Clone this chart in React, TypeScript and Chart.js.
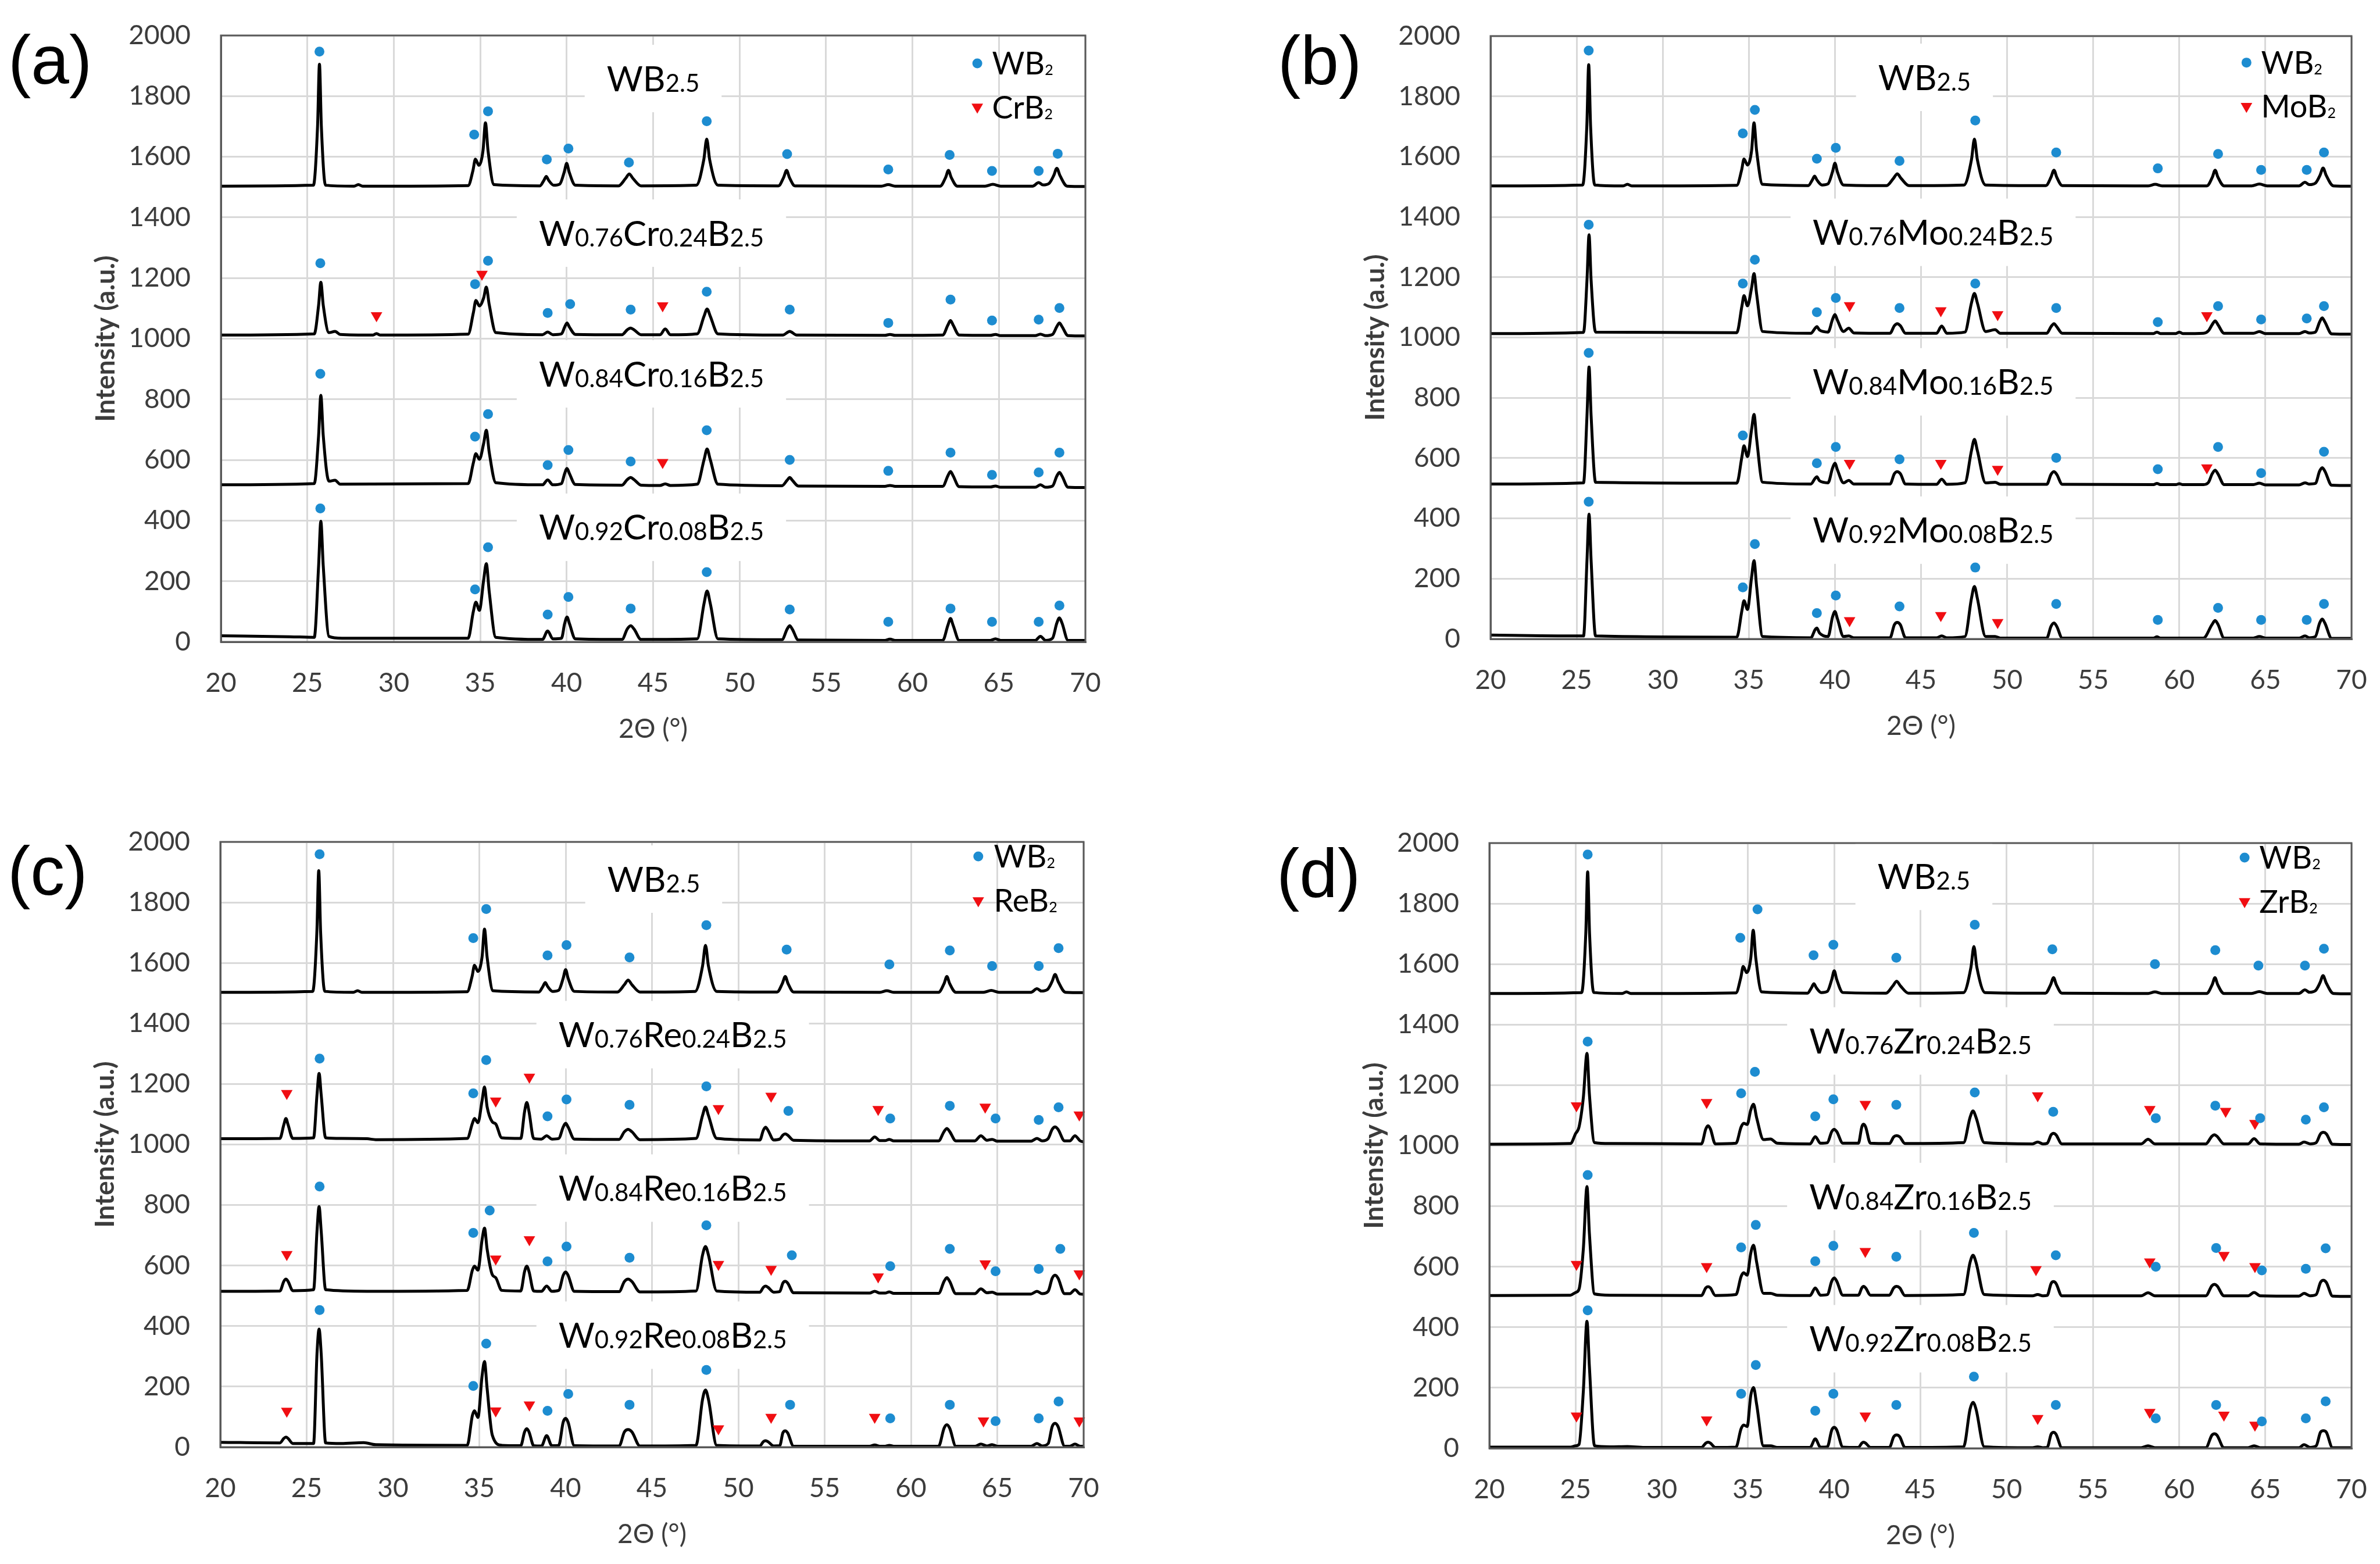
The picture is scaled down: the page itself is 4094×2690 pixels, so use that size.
import React, { useEffect, useRef } from "react";
import { Chart, registerables } from "chart.js";

Chart.register(...registerables);

// ---------------- colours ----------------
const BLUE = "rgb(29,140,208)";
const RED = "rgb(240,14,18)";
const GRID = "#d9d9d9";
const FRAME = "#595959";
const TICK = "#3c3c3c";

// ---------------- XRD patterns: [2θ, intensity, 2θ, intensity, ...] ----------------
const WB25 = [
  20,1503, 25.35,1506, 25.59,1700, 25.7,1905, 25.81,1700, 26.05,1506, 27.7,1503, 27.95,1508, 28.2,1503,
  34.3,1505, 34.58,1555, 34.72,1592, 34.92,1572, 35.16,1620, 35.3,1712, 35.45,1620, 35.8,1508,
  38.45,1504, 38.68,1522, 38.82,1535, 38.96,1522, 39.25,1506, 39.6,1510, 39.86,1550, 40.0,1578, 40.14,1550, 40.5,1506,
  43.0,1504, 43.4,1528, 43.62,1543, 43.84,1528, 44.3,1504, 47.5,1506, 47.93,1590, 48.1,1658, 48.27,1590, 48.75,1506,
  52.25,1504, 52.55,1532, 52.72,1555, 52.88,1532, 53.2,1504, 58.2,1503, 58.6,1508, 59.0,1503,
  61.6,1503, 61.92,1532, 62.08,1555, 62.24,1532, 62.6,1503, 64.2,1503, 64.65,1509, 65.1,1503,
  66.95,1503, 67.3,1515, 67.55,1507, 67.9,1512, 68.17,1538, 68.35,1562, 68.53,1538, 68.95,1503, 70,1502,
];

const CR24 = [
  20,1012, 25.4,1016, 25.65,1110, 25.78,1186, 25.92,1110, 26.25,1020, 26.6,1024, 26.9,1014,
  28.8,1012, 29.0,1017, 29.2,1012,
  34.3,1015, 34.6,1085, 34.75,1126, 34.95,1108, 35.2,1135, 35.35,1170, 35.52,1112, 35.9,1020,
  38.6,1013, 38.9,1022, 39.2,1013, 39.7,1016, 39.88,1038, 40.02,1052, 40.16,1038, 40.5,1014,
  43.2,1013, 43.5,1029, 43.7,1035, 43.9,1029, 44.3,1013, 45.4,1013, 45.7,1032, 46.0,1013,
  47.55,1016, 47.95,1075, 48.12,1098, 48.3,1075, 48.75,1016, 52.5,1012, 52.9,1024, 53.3,1012,
  58.4,1011, 58.7,1014, 59.0,1011, 61.75,1012, 62.05,1045, 62.2,1060, 62.35,1045, 62.7,1012,
  64.5,1011, 64.8,1014, 65.1,1010, 67.1,1010, 67.4,1015, 67.7,1010, 68.1,1014, 68.35,1040, 68.5,1052, 68.65,1040, 69.0,1010, 70,1009,
];

const CR16 = [
  20,518, 25.4,522, 25.65,680, 25.78,813, 25.92,680, 26.25,530, 26.6,533, 26.9,520,
  34.3,522, 34.6,590, 34.75,621, 34.95,602, 35.2,655, 35.35,698, 35.52,625, 35.9,525,
  38.6,518, 38.9,534, 39.2,518, 39.7,522, 39.88,555, 40.02,572, 40.16,555, 40.5,519,
  43.2,517, 43.5,535, 43.7,542, 43.9,535, 44.3,517, 45.4,516, 45.7,521, 46.0,516,
  47.55,520, 47.95,602, 48.12,636, 48.3,602, 48.75,520, 52.45,515, 52.75,533, 52.9,542, 53.05,533, 53.4,514,
  58.4,513, 58.7,516, 59.0,513, 61.75,513, 62.05,548, 62.2,562, 62.35,548, 62.7,512,
  64.5,511, 64.8,514, 65.1,510, 67.1,510, 67.4,518, 67.7,510, 68.1,514, 68.35,547, 68.5,559, 68.65,547, 69.0,510, 70,509,
];

const CR08 = [
  20,20, 24,17, 25.4,15, 25.65,250, 25.78,398, 25.92,250, 26.25,18, 27,12,
  34.3,12, 34.6,100, 34.75,131, 34.95,104, 35.2,205, 35.35,258, 35.52,165, 35.9,15,
  38.6,8, 38.9,36, 39.2,10, 39.7,12, 39.88,60, 40.02,82, 40.16,60, 40.5,10,
  43.2,8, 43.5,42, 43.7,53, 43.9,42, 44.3,8, 47.55,10, 47.95,128, 48.12,168, 48.3,128, 48.75,10,
  52.45,7, 52.75,42, 52.9,53, 53.05,42, 53.4,6, 58.4,5, 58.7,9, 59.0,5,
  61.75,5, 62.05,55, 62.2,77, 62.35,55, 62.7,5, 64.5,5, 64.8,10, 65.1,5,
  67.1,5, 67.4,18, 67.7,5, 68.1,12, 68.35,62, 68.5,79, 68.65,62, 69.0,5, 70,5,
];

const MO24 = [
  20,1013, 25.4,1017, 25.6,1190, 25.72,1341, 25.84,1190, 26.1,1018,
  34.3,1016, 34.6,1105, 34.72,1139, 34.92,1105, 35.16,1165, 35.3,1212, 35.45,1145, 35.8,1020,
  38.6,1014, 38.85,1031, 38.95,1036, 39.1,1025, 39.6,1018, 39.86,1060, 40.0,1076, 40.14,1058, 40.5,1020, 40.8,1031, 41.1,1015,
  43.2,1014, 43.45,1039, 43.62,1046, 43.8,1039, 44.1,1014, 45.9,1014, 46.2,1038, 46.5,1014,
  47.55,1018, 47.93,1115, 48.1,1146, 48.27,1115, 48.75,1020, 49.3,1026, 49.6,1014,
  52.3,1014, 52.55,1036, 52.72,1046, 52.88,1036, 53.2,1014, 58.5,1013, 58.7,1018, 58.9,1013, 59.8,1013, 60.0,1018, 60.2,1013,
  61.4,1014, 61.7,1023, 61.9,1042, 62.08,1055, 62.25,1042, 62.6,1014, 64.3,1014, 64.65,1020, 65.0,1013,
  66.95,1013, 67.3,1020, 67.55,1015, 67.9,1018, 68.15,1052, 68.3,1065, 68.45,1052, 68.85,1012, 70,1011,
];

const MO16 = [
  20,514, 25.4,518, 25.6,740, 25.72,902, 25.84,740, 26.1,520,
  34.3,517, 34.6,605, 34.72,641, 34.92,605, 35.16,695, 35.3,745, 35.45,665, 35.8,520,
  38.6,514, 38.85,533, 38.95,538, 39.1,525, 39.6,518, 39.86,567, 40.0,583, 40.14,562, 40.5,518, 40.8,526, 41.1,514,
  43.2,514, 43.45,548, 43.62,555, 43.8,548, 44.1,514, 45.9,513, 46.2,530, 46.5,513,
  47.55,518, 47.93,625, 48.1,662, 48.27,625, 48.75,518, 49.3,520, 49.6,513,
  52.3,513, 52.55,546, 52.72,555, 52.88,546, 53.2,513, 58.5,512, 58.7,516, 58.9,512, 59.8,512, 60.0,515, 60.2,512,
  61.4,512, 61.7,520, 61.9,547, 62.08,560, 62.25,547, 62.6,512, 64.3,512, 64.65,517, 65.0,511,
  66.95,511, 67.3,518, 67.55,514, 67.9,516, 68.15,557, 68.3,568, 68.45,557, 68.85,510, 70,509,
];

const MO08 = [
  20,13, 25.4,10, 25.6,260, 25.72,414, 25.84,260, 26.1,10,
  34.3,6, 34.6,95, 34.72,127, 34.92,98, 35.16,205, 35.3,260, 35.45,175, 35.8,8,
  38.6,4, 38.85,31, 38.95,36, 39.1,20, 39.6,8, 39.86,73, 40.0,91, 40.14,68, 40.5,8, 40.8,10, 41.1,4,
  43.2,4, 43.45,47, 43.62,55, 43.8,47, 44.1,4, 45.9,4, 46.2,10, 46.5,4,
  47.55,8, 47.93,135, 48.1,174, 48.27,135, 48.75,8, 49.3,8, 49.6,3,
  52.3,3, 52.55,42, 52.72,53, 52.88,42, 53.2,3, 58.5,3, 58.7,7, 58.9,3,
  61.4,3, 61.9,48, 62.08,61, 62.25,48, 62.6,3, 64.3,3, 64.65,8, 65.0,3,
  66.95,3, 67.3,10, 67.55,4, 67.9,8, 68.15,53, 68.3,66, 68.45,53, 68.85,2, 70,2,
];

const RE24 = [
  20,1019, 23.45,1020, 23.68,1066, 23.8,1086, 23.92,1066, 24.2,1020,
  25.4,1022, 25.6,1165, 25.72,1235, 25.84,1165, 26.1,1022, 27,1020, 28.5,1019, 29,1016,
  34.3,1020, 34.6,1070, 34.72,1086, 34.92,1072, 35.16,1145, 35.3,1190, 35.45,1125, 35.75,1075, 35.95,1068, 36.3,1022,
  37.4,1020, 37.62,1108, 37.75,1139, 37.88,1108, 38.15,1020,
  38.6,1018, 38.9,1029, 39.2,1018, 39.6,1020, 39.86,1058, 40.0,1070, 40.14,1058, 40.5,1018,
  43.1,1017, 43.4,1042, 43.62,1050, 43.84,1042, 44.3,1016, 47.55,1020, 47.93,1096, 48.1,1124, 48.27,1096, 48.75,1020,
  51.25,1015, 51.45,1047, 51.58,1057, 51.72,1047, 52.05,1015, 52.4,1018, 52.58,1031, 52.72,1035, 52.86,1031, 53.2,1014,
  57.6,1012, 57.9,1025, 58.2,1013, 58.5,1013, 58.75,1017, 59.0,1012,
  61.6,1012, 61.92,1043, 62.08,1053, 62.24,1043, 62.6,1012, 63.7,1012, 64.05,1029, 64.4,1014, 64.7,1017, 65.0,1011,
  66.95,1011, 67.3,1020, 67.6,1012, 67.95,1020, 68.18,1050, 68.35,1058, 68.52,1050, 68.9,1012,
  69.2,1012, 69.5,1029, 69.8,1012, 70,1009,
];

const RE16 = [
  20,515, 23.45,516, 23.68,548, 23.8,555, 23.92,548, 24.2,517,
  25.4,520, 25.6,715, 25.72,795, 25.84,715, 26.1,520, 28.5,515,
  34.3,518, 34.6,585, 34.72,598, 34.92,585, 35.16,685, 35.3,724, 35.45,655, 35.75,570, 35.95,560, 36.3,518,
  37.4,516, 37.62,580, 37.75,598, 37.88,580, 38.15,516,
  38.6,515, 38.9,532, 39.2,515, 39.6,518, 39.86,568, 40.0,579, 40.14,568, 40.5,515,
  43.1,514, 43.4,547, 43.62,555, 43.84,547, 44.3,513, 47.55,516, 47.93,635, 48.1,663, 48.27,635, 48.75,516,
  51.25,512, 51.45,528, 51.58,532, 51.72,528, 52.05,512, 52.4,514, 52.58,542, 52.72,548, 52.86,542, 53.2,510,
  57.6,509, 57.9,515, 58.2,509, 58.5,509, 58.75,513, 59.0,508,
  61.6,508, 61.92,548, 62.08,560, 62.24,548, 62.6,507, 63.7,507, 64.05,523, 64.4,510, 64.7,512, 65.0,506,
  66.95,506, 67.3,515, 67.6,507, 67.95,515, 68.18,558, 68.35,568, 68.52,558, 68.9,507,
  69.2,507, 69.5,520, 69.8,506, 70,505,
];

const RE08 = [
  20,16, 23.45,14, 23.68,29, 23.8,33, 23.92,29, 24.2,12,
  25.4,12, 25.6,310, 25.72,390, 25.84,310, 26.1,14, 27,12, 28.3,15, 29,8,
  34.3,6, 34.6,105, 34.72,120, 34.92,98, 35.16,235, 35.3,283, 35.45,195, 35.75,40, 36.3,6,
  37.4,5, 37.62,50, 37.75,61, 37.88,50, 38.15,5,
  38.6,4, 38.9,38, 39.2,5, 39.6,6, 39.86,83, 40.0,95, 40.14,83, 40.5,5,
  43.1,4, 43.4,50, 43.62,58, 43.84,50, 44.3,4, 47.55,6, 47.93,158, 48.1,189, 48.27,158, 48.75,6,
  51.25,4, 51.45,18, 51.58,21, 51.72,18, 52.05,4, 52.4,5, 52.58,47, 52.72,54, 52.86,47, 53.2,3,
  57.6,3, 57.9,7, 58.2,3, 58.5,3, 58.75,6, 59.0,3,
  61.6,3, 61.92,63, 62.08,74, 62.24,63, 62.6,3, 63.7,3, 64.05,10, 64.4,4, 64.7,8, 65.0,3,
  66.95,3, 67.3,12, 67.6,4, 67.95,12, 68.18,68, 68.35,79, 68.52,68, 68.9,3,
  69.2,3, 69.5,10, 69.8,3, 70,3,
];

const ZR24 = [
  20,1005, 24.7,1007, 25.0,1040, 25.2,1062, 25.45,1160, 25.66,1305, 25.8,1170, 26.1,1010, 27,1007,
  32.3,1006, 32.55,1055, 32.68,1066, 32.82,1055, 33.1,1006,
  34.3,1008, 34.6,1062, 34.75,1074, 34.95,1070, 35.16,1118, 35.32,1137, 35.5,1092, 35.9,1020, 36.3,1022, 36.7,1008,
  38.6,1006, 38.9,1030, 39.2,1008, 39.6,1010, 39.86,1047, 40.0,1054, 40.14,1047, 40.5,1008,
  41.4,1008, 41.6,1062, 41.7,1071, 41.82,1062, 42.1,1008, 43.2,1007, 43.45,1029, 43.62,1033, 43.8,1029, 44.1,1007,
  47.5,1010, 47.88,1094, 48.05,1115, 48.22,1094, 48.7,1010,
  51.5,1006, 51.8,1012, 52.1,1006, 52.35,1008, 52.58,1036, 52.72,1041, 52.86,1036, 53.2,1006,
  57.8,1006, 58.2,1021, 58.6,1006, 61.55,1006, 61.9,1031, 62.05,1036, 62.2,1031, 62.6,1006,
  64.0,1006, 64.35,1023, 64.7,1006, 66.95,1005, 67.25,1012, 67.6,1006, 67.95,1010, 68.2,1039, 68.37,1044, 68.54,1039, 68.9,1005, 70,1004,
];

const ZR16 = [
  20,505, 24.7,506, 25.0,515, 25.2,526, 25.45,660, 25.66,865, 25.8,710, 26.1,510, 27,506,
  32.3,505, 32.55,530, 32.68,534, 32.82,530, 33.1,505,
  34.3,508, 34.6,568, 34.75,580, 34.95,572, 35.16,645, 35.32,671, 35.5,615, 35.9,512, 36.3,512, 36.7,506,
  38.6,505, 38.9,530, 39.2,506, 39.6,508, 39.86,553, 40.0,563, 40.14,553, 40.5,506,
  41.4,506, 41.6,530, 41.7,535, 41.82,530, 42.1,506, 43.2,506, 43.45,530, 43.62,535, 43.8,530, 44.1,505,
  47.5,508, 47.88,615, 48.05,638, 48.22,615, 48.7,508,
  51.5,504, 51.8,508, 52.1,504, 52.35,505, 52.58,545, 52.72,551, 52.86,545, 53.2,504,
  57.8,504, 58.2,514, 58.6,504, 61.55,504, 61.9,537, 62.05,542, 62.2,537, 62.6,504,
  64.0,504, 64.35,515, 64.7,504, 66.95,503, 67.25,512, 67.6,504, 67.95,508, 68.2,548, 68.37,555, 68.54,548, 68.9,503, 70,502,
];

const ZR08 = [
  20,4, 24.7,4, 25.0,8, 25.2,13, 25.45,190, 25.66,420, 25.8,270, 26.1,8, 27,5, 28,6, 29,3,
  32.3,3, 32.55,17, 32.68,20, 32.82,17, 33.1,3,
  34.3,4, 34.6,65, 34.75,77, 34.95,72, 35.16,175, 35.32,201, 35.5,145, 35.9,8, 36.3,8, 36.7,3,
  38.6,3, 38.9,31, 39.2,4, 39.6,5, 39.86,61, 40.0,69, 40.14,61, 40.5,4,
  41.4,3, 41.6,17, 41.7,20, 41.82,17, 42.1,3, 43.2,3, 43.45,38, 43.62,44, 43.8,38, 44.1,3,
  47.5,5, 47.88,130, 48.05,152, 48.22,130, 48.7,5,
  51.5,2, 51.8,5, 52.1,2, 52.35,3, 52.58,47, 52.72,53, 52.86,47, 53.2,2,
  57.8,2, 58.2,8, 58.6,2, 61.55,2, 61.9,43, 62.05,48, 62.2,43, 62.6,2,
  64.0,2, 64.35,8, 64.7,2, 66.95,2, 67.25,12, 67.6,3, 67.95,8, 68.2,53, 68.37,58, 68.54,53, 68.9,2, 70,2,
];

// ---------------- phase markers: [2θ, intensity, ...] ----------------
const WB2_MARKS_A = [
  25.7,1947, 34.65,1673, 35.45,1750, 38.85,1591, 40.1,1627, 43.6,1581, 48.1,1717, 52.75,1609, 58.6,1558, 62.15,1606, 64.6,1553, 67.3,1553, 68.4,1610,
  25.75,1249, 34.7,1180, 35.45,1257, 38.9,1085, 40.2,1114, 43.7,1096, 48.1,1155, 52.9,1096, 58.6,1052, 62.2,1129, 64.6,1060, 67.3,1063, 68.5,1101,
  25.75,884, 34.7,677, 35.45,751, 38.9,583, 40.1,633, 43.7,595, 48.1,698, 52.9,600, 58.6,564, 62.2,624, 64.6,551, 67.3,559, 68.5,624,
  25.75,440, 34.7,173, 35.45,312, 38.9,90, 40.1,148, 43.7,110, 48.1,230, 52.9,107, 58.6,66, 62.2,110, 64.6,66, 67.3,66, 68.5,120,
];
const CRB2_MARKS = [29.0,1076, 35.1,1213, 45.55,1109, 45.55,592];

const WB2_MARKS_B = [
  25.7,1952, 34.65,1677, 35.35,1755, 38.95,1593, 40.05,1629, 43.75,1586, 48.15,1720, 52.85,1614, 58.75,1561, 62.25,1609, 64.75,1556, 67.4,1556, 68.4,1614,
  25.7,1374, 34.65,1179, 35.35,1258, 38.95,1084, 40.05,1131, 43.75,1098, 48.15,1179, 52.85,1098, 58.75,1051, 62.25,1104, 64.75,1060, 67.4,1063, 68.4,1104,
  25.7,949, 34.65,675, 38.95,583, 40.05,637, 43.75,596, 52.85,601, 58.75,563, 62.25,637, 64.75,550, 68.4,621,
  25.7,455, 34.65,171, 35.35,315, 38.95,86, 40.05,144, 43.75,108, 48.15,237, 52.85,116, 58.75,63, 62.25,103, 64.75,63, 67.4,63, 68.4,116,
];
const MOB2_MARKS = [
  40.85,1106, 46.15,1089, 49.45,1076, 61.6,1073,
  40.85,583, 46.15,583, 49.45,563, 61.6,568,
  40.85,61, 46.15,78, 49.45,55,
];

const WB2_MARKS_C = [
  25.75,1959, 34.65,1682, 35.4,1778, 38.95,1625, 40.05,1659, 43.7,1618, 48.15,1725, 52.8,1644, 58.75,1595, 62.25,1641, 64.7,1590, 67.4,1590, 68.55,1649,
  25.75,1284, 34.65,1169, 35.4,1279, 38.95,1093, 40.05,1149, 43.7,1131, 48.15,1192, 52.9,1111, 58.8,1086, 62.25,1128, 64.9,1086, 67.4,1081, 68.55,1123,
  25.75,861, 34.65,708, 35.6,782, 38.95,614, 40.05,663, 43.7,626, 48.15,733, 53.1,634, 58.8,598, 62.25,655, 64.9,581, 67.4,589, 68.65,655,
  25.75,453, 34.65,202, 35.4,342, 38.95,120, 40.15,176, 43.7,140, 48.15,255, 53.0,140, 58.8,95, 62.25,140, 64.9,86, 67.4,95, 68.55,151,
];
const REB2_MARKS = [
  23.85,1169, 35.95,1144, 37.9,1223, 48.85,1119, 51.9,1160, 58.1,1116, 64.3,1124, 69.75,1098,
  23.85,637, 35.95,622, 37.9,686, 48.85,604, 51.9,588, 58.1,563, 64.3,606, 69.75,573,
  23.85,119, 35.95,120, 37.9,140, 48.85,61, 51.9,99, 57.9,99, 64.2,87, 69.75,87,
];

const WB2_MARKS_D = [
  25.7,1962, 34.55,1687, 35.55,1781, 38.8,1629, 39.95,1664, 43.6,1621, 48.15,1730, 52.65,1649, 58.6,1600, 62.1,1646, 64.6,1595, 67.3,1595, 68.4,1651,
  25.7,1344, 34.6,1173, 35.4,1244, 38.9,1097, 39.95,1153, 43.6,1135, 48.15,1176, 52.7,1112, 58.65,1091, 62.1,1132, 64.7,1091, 67.35,1086, 68.4,1127,
  25.7,903, 34.6,664, 35.45,738, 38.9,618, 39.95,669, 43.6,633, 48.1,712, 52.85,638, 58.65,600, 62.15,662, 64.8,588, 67.35,593, 68.5,661,
  25.7,456, 34.6,180, 35.45,275, 38.9,124, 39.95,180, 43.6,143, 48.1,237, 52.85,143, 58.65,99, 62.15,143, 64.8,89, 67.35,99, 68.5,155,
];
const ZRB2_MARKS = [
  25.05,1132, 32.6,1143, 41.8,1137, 51.8,1165, 58.3,1120, 62.7,1114, 64.4,1074,
  25.05,608, 32.6,601, 41.8,651, 51.7,591, 58.3,616, 62.6,638, 64.4,601,
  25.05,107, 32.6,94, 41.8,107, 51.8,99, 58.3,119, 62.6,110, 64.4,77,
];

// ---------------- text (even index = normal size, odd index = small) ----------------
const LABELS_CR = [["WB", "2.5"], ["W", "0.76", "Cr", "0.24", "B", "2.5"], ["W", "0.84", "Cr", "0.16", "B", "2.5"], ["W", "0.92", "Cr", "0.08", "B", "2.5"]];
const LABELS_MO = [["WB", "2.5"], ["W", "0.76", "Mo", "0.24", "B", "2.5"], ["W", "0.84", "Mo", "0.16", "B", "2.5"], ["W", "0.92", "Mo", "0.08", "B", "2.5"]];
const LABELS_RE = [["WB", "2.5"], ["W", "0.76", "Re", "0.24", "B", "2.5"], ["W", "0.84", "Re", "0.16", "B", "2.5"], ["W", "0.92", "Re", "0.08", "B", "2.5"]];
const LABELS_ZR = [["WB", "2.5"], ["W", "0.76", "Zr", "0.24", "B", "2.5"], ["W", "0.84", "Zr", "0.16", "B", "2.5"], ["W", "0.92", "Zr", "0.08", "B", "2.5"]];
const LEGEND_WB2 = ["WB", "2"];
const LEGEND_CR = ["CrB", "2"];
const LEGEND_MO = ["MoB", "2"];
const LEGEND_RE = ["ReB", "2"];
const LEGEND_ZR = ["ZrB", "2"];
const X_TITLE = "2Θ (°)";
const Y_TITLE = "Intensity (a.u.)";

// ---------------- layout (pixel boxes and label anchors) ----------------
type Panel = {
  id: string;
  letter: string;
  cx: number; cy: number;
  L: number; T: number; R: number; B: number;
  letterDy: number;
  lines: number[][];
  wb2: number[];
  phase: number[];
  labels: string[][];
  labelPos: number[][];
  legendPhase: string[];
  legend: { mx: number; tx: number; y1: number; y2: number };
};

const CW = 2047;
const CH = 1345;

const PANELS: Panel[] = [
  {
    id: "a", letter: "(a)", cx: 0, cy: 0, L: 380, T: 61, R: 1867, B: 1104, letterDy: 50,
    lines: [WB25, CR24, CR16, CR08], wb2: WB2_MARKS_A, phase: CRB2_MARKS, labels: LABELS_CR,
    labelPos: [[45.0, 1858], [44.9, 1348], [44.9, 884], [44.9, 378]],
    legendPhase: LEGEND_CR, legend: { mx: 63.75, tx: 64.6, y1: 1908, y2: 1764 },
  },
  {
    id: "b", letter: "(b)", cx: CW, cy: 0, L: 517, T: 62, R: 1998, B: 1099, letterDy: 50,
    lines: [WB25, MO24, MO16, MO08], wb2: WB2_MARKS_B, phase: MOB2_MARKS, labels: LABELS_MO,
    labelPos: [[45.2, 1863], [45.7, 1349], [45.7, 853], [45.7, 361]],
    legendPhase: LEGEND_MO, legend: { mx: 63.9, tx: 64.75, y1: 1912, y2: 1767 },
  },
  {
    id: "c", letter: "(c)", cx: 0, cy: CH, L: 379, T: 103, R: 1864, B: 1144, letterDy: 58,
    lines: [WB25, RE24, RE16, RE08], wb2: WB2_MARKS_C, phase: REB2_MARKS, labels: LABELS_RE,
    labelPos: [[45.1, 1877], [46.2, 1363], [46.2, 856], [46.2, 370]],
    legendPhase: LEGEND_RE, legend: { mx: 63.9, tx: 64.8, y1: 1952, y2: 1806 },
  },
  {
    id: "d", letter: "(d)", cx: CW, cy: CH, L: 515, T: 105, R: 1998, B: 1146, letterDy: 60,
    lines: [WB25, ZR24, ZR16, ZR08], wb2: WB2_MARKS_D, phase: ZRB2_MARKS, labels: LABELS_ZR,
    labelPos: [[45.2, 1890], [45.0, 1346], [45.0, 832], [45.0, 362]],
    legendPhase: LEGEND_ZR, legend: { mx: 63.8, tx: 64.65, y1: 1952, y2: 1807 },
  },
];

const FONT = "Lato, 'Open Sans', sans-serif";
const LABEL_BIG = 60;
const LABEL_SMALL = 42;
const LEG_BIG = 54;
const LEG_SMALL = 25;
const DOT_R = 8.5;
const TRI_R = 11.5;

function toPts(arr: number[]) {
  const out: { x: number; y: number }[] = [];
  for (let i = 0; i + 1 < arr.length; i += 2) out.push({ x: arr[i], y: arr[i + 1] });
  return out;
}

function richWidth(ctx: CanvasRenderingContext2D, parts: string[], big: number, small: number) {
  let w = 0;
  parts.forEach((p, i) => {
    ctx.font = `${i % 2 ? small : big}px ${FONT}`;
    w += ctx.measureText(p).width;
  });
  return w;
}

function drawRich(ctx: CanvasRenderingContext2D, parts: string[], x: number, yMid: number, big: number, small: number) {
  const base = yMid + big * 0.36;
  let cx = x;
  ctx.textBaseline = "alphabetic";
  ctx.textAlign = "left";
  parts.forEach((p, i) => {
    ctx.font = `${i % 2 ? small : big}px ${FONT}`;
    ctx.fillText(p, cx, base + (i % 2 ? 1 : 0));
    cx += ctx.measureText(p).width;
  });
}

function PanelChart({ p }: { p: Panel }) {
  const ref = useRef<HTMLCanvasElement>(null);
  useEffect(() => {
    const canvas = ref.current!;
    const annot = {
      id: "annot" + p.id,
      beforeDatasetsDraw(chart: any) {
        const ctx: CanvasRenderingContext2D = chart.ctx;
        const xs = chart.scales.x;
        const ys = chart.scales.y;
        ctx.save();
        p.labels.forEach((parts, i) => {
          const cxp = xs.getPixelForValue(p.labelPos[i][0]);
          const cyp = ys.getPixelForValue(p.labelPos[i][1]);
          const w = richWidth(ctx, parts, LABEL_BIG, LABEL_SMALL);
          ctx.fillStyle = "#ffffff";
          ctx.fillRect(cxp - w / 2 - 38, cyp - 58, w + 76, 116);
          ctx.fillStyle = "#000000";
          drawRich(ctx, parts, cxp - w / 2, cyp, LABEL_BIG, LABEL_SMALL);
        });
        const mx = xs.getPixelForValue(p.legend.mx);
        const tx = xs.getPixelForValue(p.legend.tx);
        const y1 = ys.getPixelForValue(p.legend.y1);
        const y2 = ys.getPixelForValue(p.legend.y2);
        ctx.fillStyle = BLUE;
        ctx.beginPath();
        ctx.arc(mx, y1, DOT_R, 0, Math.PI * 2);
        ctx.fill();
        ctx.fillStyle = RED;
        ctx.beginPath();
        ctx.moveTo(mx - TRI_R * 0.866, y2 - TRI_R * 0.5);
        ctx.lineTo(mx + TRI_R * 0.866, y2 - TRI_R * 0.5);
        ctx.lineTo(mx, y2 + TRI_R);
        ctx.closePath();
        ctx.fill();
        ctx.fillStyle = "#000000";
        drawRich(ctx, LEGEND_WB2, tx, y1, LEG_BIG, LEG_SMALL);
        drawRich(ctx, p.legendPhase, tx, y2, LEG_BIG, LEG_SMALL);
        ctx.restore();
      },
      afterDraw(chart: any) {
        const ctx: CanvasRenderingContext2D = chart.ctx;
        const a = chart.chartArea;
        ctx.save();
        ctx.strokeStyle = FRAME;
        ctx.lineWidth = 3;
        ctx.strokeRect(a.left, a.top, a.right - a.left, a.bottom - a.top);
        ctx.fillStyle = "#000000";
        ctx.font = `118px 'Liberation Sans', Arial, sans-serif`;
        ctx.textAlign = "left";
        ctx.textBaseline = "middle";
        ctx.fillText(p.letter, p.L - 366, p.T + p.letterDy);
        ctx.restore();
      },
    };

    const lineSets = p.lines.map((arr) => ({
      data: toPts(arr),
      borderColor: "#000000",
      borderWidth: 5,
      pointRadius: 0,
      fill: false,
      cubicInterpolationMode: "monotone" as const,
      order: 2,
    }));

    const chart = new Chart(canvas, {
      type: "line",
      data: {
        datasets: [
          {
            data: toPts(p.wb2),
            showLine: false,
            pointStyle: "circle",
            pointRadius: DOT_R,
            pointBackgroundColor: BLUE,
            pointBorderWidth: 0,
            borderColor: BLUE,
            clip: false,
            order: 0,
          } as any,
          {
            data: toPts(p.phase),
            showLine: false,
            pointStyle: "triangle",
            pointRotation: 180,
            pointRadius: TRI_R,
            pointBackgroundColor: RED,
            pointBorderWidth: 0,
            borderColor: RED,
            clip: false,
            order: 0,
          } as any,
          ...lineSets,
        ],
      },
      options: {
        animation: false,
        responsive: false,
        maintainAspectRatio: false,
        devicePixelRatio: 1,
        events: [],
        layout: { autoPadding: false, padding: { left: 0, top: p.T, right: CW - p.R, bottom: 0 } },
        plugins: { legend: { display: false }, tooltip: { enabled: false }, title: { display: false } },
        scales: {
          x: {
            type: "linear",
            min: 20,
            max: 70,
            afterFit: (s: any) => {
              s.height = CH - p.B;
              s.paddingLeft = 0; s.paddingRight = 0; s.paddingTop = 0; s.paddingBottom = 0;
            },
            ticks: { stepSize: 5, padding: 44, maxRotation: 0, color: TICK, font: { family: FONT, size: 46 }, callback: (v: any) => String(v) },
            grid: { color: GRID, lineWidth: 3, drawTicks: false },
            border: { display: true, color: FRAME, width: 3 },
            title: {
              display: true, text: X_TITLE, color: TICK,
              font: { family: FONT, size: 46 },
              padding: { top: 0, bottom: CH - p.B - 150 - 27.6 },
            },
          },
          y: {
            type: "linear",
            min: 0,
            max: 2000,
            afterFit: (s: any) => {
              s.width = p.L;
              s.paddingLeft = 0; s.paddingRight = 0; s.paddingTop = 0; s.paddingBottom = 0;
            },
            ticks: { stepSize: 200, padding: 52, color: TICK, font: { family: FONT, size: 46 }, callback: (v: any) => String(v) },
            grid: { color: GRID, lineWidth: 3, drawTicks: false },
            border: { display: true, color: FRAME, width: 3 },
            title: {
              display: true, text: Y_TITLE, color: TICK,
              font: { family: FONT, size: 46, weight: "bold" },
              padding: { top: p.L - 198 - 27.6, bottom: 0 },
            },
          },
        },
      } as any,
      plugins: [annot],
    });
    return () => chart.destroy();
  }, [p]);
  return (
    <canvas
      ref={ref}
      width={CW}
      height={CH}
      style={{ position: "absolute", left: p.cx, top: p.cy, width: CW, height: CH, display: "block" }}
    />
  );
}

export default function App() {
  useEffect(() => {
    document.body.style.margin = "0";
    document.body.style.overflow = "hidden";
    document.body.style.background = "#ffffff";
  }, []);
  return (
    <div style={{ position: "relative", width: 4094, height: 2690, background: "#ffffff", overflow: "hidden" }}>
      <style>{"html,body{margin:0;padding:0;overflow:hidden;background:#fff;}"}</style>
      {PANELS.map((p) => (
        <PanelChart key={p.id} p={p} />
      ))}
    </div>
  );
}
